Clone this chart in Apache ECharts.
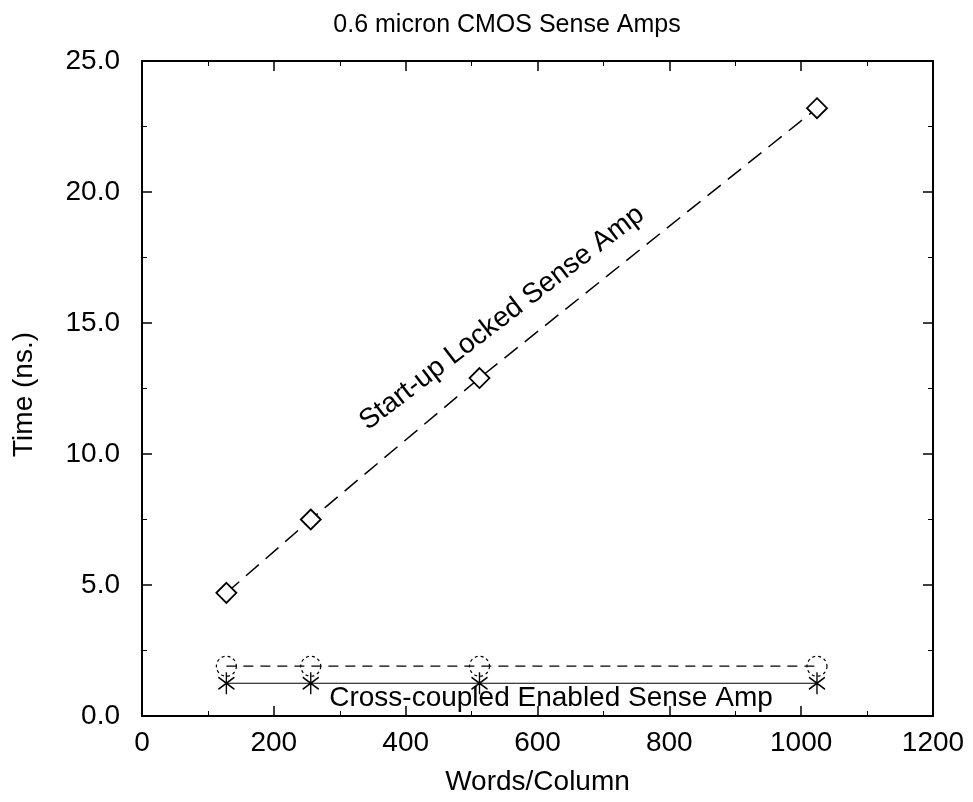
<!DOCTYPE html>
<html>
<head>
<meta charset="utf-8">
<script src="https://cdn.jsdelivr.net/npm/echarts@6/dist/echarts.min.js"></script>
<style>html,body{margin:0;padding:0;background:#fff}#c{width:973px;height:802px}</style>
</head>
<body>
<div id="c"></div>
<script>
const wordsPerColumn = [128, 256, 512, 1024];
const startupLocked = [4.7, 7.5, 12.9, 23.2];
const crossCoupledCircle = [1.9, 1.9, 1.9, 1.9];
const crossCoupledStar = [1.25, 1.25, 1.25, 1.25];
const titleText = '0.6 micron CMOS Sense Amps';
const xName = 'Words/Column';
const yName = 'Time (ns.)';
const label1 = 'Start-up Locked Sense Amp';
const label2 = 'Cross-coupled Enabled Sense Amp';

const FONT = '"Liberation Sans", Arial, Helvetica, sans-serif';
const pair = (xs, ys) => xs.map((x, i) => [x, ys[i]]);
const star = 'path://M0,-11L0,11M-8,-6L8,6M-8,6L8,-6';

const chart = echarts.init(document.getElementById('c'), null, {renderer: 'canvas'});
const axisCommon = {
  axisLine: {show: true, onZero: false, lineStyle: {color: '#000', width: 2}},
  axisTick: {show: true, inside: true, length: 10, lineStyle: {color: '#000', width: 1.5}},
  minorTick: {show: true, splitNumber: 2, length: 5, lineStyle: {color: '#000', width: 1}},
  splitLine: {show: false}
};
chart.setOption({
  animation: false,
  backgroundColor: '#fff',
  title: {
    text: titleText, left: 502, top: 8, textAlign: 'center',
    textStyle: {fontFamily: FONT, fontSize: 25, fontWeight: 'normal', color: '#000'}
  },
  grid: {left: 142, right: 40, top: 61, bottom: 86},
  xAxis: [
    Object.assign({
      type: 'value', min: 0, max: 1200, interval: 200, position: 'bottom',
      name: xName, nameLocation: 'middle', nameGap: 52,
      nameTextStyle: {fontFamily: FONT, fontSize: 28, color: '#000'},
      axisLabel: {fontFamily: FONT, fontSize: 28, color: '#000', margin: 13, formatter: v => String(v)},
    }, axisCommon),
    Object.assign({
      type: 'value', min: 0, max: 1200, interval: 200, position: 'top',
      axisLabel: {show: false}
    }, axisCommon)
  ],
  yAxis: [
    Object.assign({
      type: 'value', min: 0, max: 25, interval: 5, position: 'left',
      name: yName, nameLocation: 'middle', nameGap: 104, nameRotate: 90,
      nameTextStyle: {fontFamily: FONT, fontSize: 28, color: '#000', padding: [0, 12, 0, 0]},
      axisLabel: {fontFamily: FONT, fontSize: 28, color: '#000', margin: 22,
        formatter: v => v.toFixed(1)},
    }, axisCommon),
    Object.assign({
      type: 'value', min: 0, max: 25, interval: 5, position: 'right',
      axisLabel: {show: false}
    }, axisCommon)
  ],
  series: [
    {
      type: 'line', name: 'Start-up Locked', data: pair(wordsPerColumn, startupLocked),
      xAxisIndex: 0, yAxisIndex: 0,
      lineStyle: {color: '#000', width: 1.5, type: [17, 9]},
      symbol: 'diamond', symbolSize: 20, showAllSymbol: true,
      itemStyle: {color: '#fff', borderColor: '#000', borderWidth: 1.8}, z: 3
    },
    {
      type: 'line', name: 'Cross-coupled (circle)', data: pair(wordsPerColumn, crossCoupledCircle),
      lineStyle: {color: '#000', width: 1.2, type: [10, 7]},
      symbol: 'circle', symbolSize: 20,
      itemStyle: {color: 'rgba(255,255,255,0)', borderColor: '#000', borderWidth: 1.2, borderType: [3, 3]}, z: 3
    },
    {
      type: 'line', name: 'Cross-coupled (star)', data: pair(wordsPerColumn, crossCoupledStar),
      lineStyle: {color: '#000', width: 1.2, type: 'solid'},
      symbol: star, symbolSize: [16, 22],
      itemStyle: {color: 'rgba(0,0,0,0)', borderColor: '#000', borderWidth: 1.6}, z: 3
    }
  ],
  graphic: [
    {type: 'text', x: 502, y: 318, rotation: 37.5 * Math.PI / 180, z: 10,
      style: {text: label1, fontFamily: FONT, fontSize: 28, fill: '#000', textAlign: 'center', textVerticalAlign: 'middle'}},
    {type: 'text', x: 551, y: 698, z: 10,
      style: {text: label2, fontFamily: FONT, fontSize: 28, fill: '#000', textAlign: 'center', textVerticalAlign: 'middle'}}
  ]
});
</script>
</body>
</html>
